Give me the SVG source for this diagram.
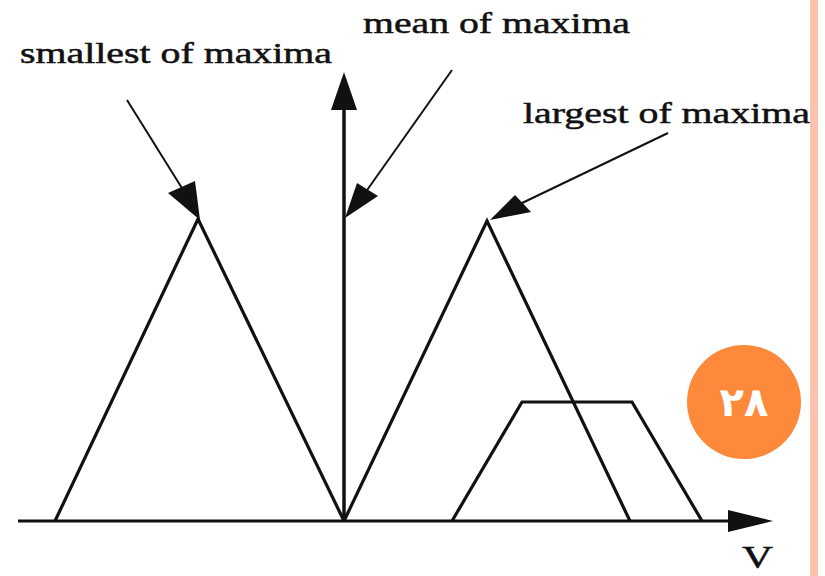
<svg xmlns="http://www.w3.org/2000/svg" width="825" height="576" viewBox="0 0 825 576">
<style>
.lbl{font-family:"Liberation Serif","Times New Roman",serif;font-size:30px;fill:#111;stroke:#111;stroke-width:0.5}
.shape{fill:none;stroke:#111;stroke-width:3.2;stroke-linejoin:miter}
.ptr{stroke:#111;stroke-width:2;fill:none}
.head{fill:#111}
</style>
<rect width="825" height="576" fill="#fff"/>
<rect x="810" y="0" width="8" height="576" fill="#FBC2AE"/>
<g id="labels">
<text class="lbl" x="20" y="63" textLength="312" lengthAdjust="spacingAndGlyphs">smallest of maxima</text>
<text class="lbl" x="363" y="33" textLength="267" lengthAdjust="spacingAndGlyphs">mean of maxima</text>
<text class="lbl" x="523" y="123" textLength="287" lengthAdjust="spacingAndGlyphs">largest of maxima</text>
<text class="lbl" x="742" y="568" style="font-size:32px" textLength="31" lengthAdjust="spacingAndGlyphs">V</text>
</g>
<g id="shapes">
<polyline id="tri-left" class="shape" points="55,521 198,219 344,521"/>
<polyline id="tri-mid" class="shape" points="344,521 487,221 630,521"/>
<polyline id="trapezoid" class="shape" points="452,521 522,402 632,402 702,521"/>
</g>
<g id="connectors">
<line id="axis-v" x1="18" y1="521" x2="732" y2="521" stroke="#111" stroke-width="3.2"/>
<polygon class="head" points="728,510 773,521 728,532"/>
<line id="axis-y" x1="344" y1="521" x2="344" y2="105" stroke="#111" stroke-width="3.5"/>
<polygon class="head" points="331,110 344,72 357,110"/>
<line class="ptr" x1="127" y1="100" x2="185" y2="193"/>
<polygon class="head" points="168,193 195,181 200,220"/>
<line class="ptr" x1="452" y1="70" x2="365" y2="193"/>
<polygon class="head" points="357,183 378,196 345,218"/>
<line class="ptr" x1="668" y1="133" x2="520" y2="204"/>
<polygon class="head" points="515,195 531,212 490,220"/>
</g>
<g id="badge">
<circle cx="744" cy="402" r="57" fill="#FD8A3A"/>
<text x="744" y="416" text-anchor="middle" style="font-family:'DejaVu Sans',sans-serif;font-weight:bold;font-size:40px;fill:#fff">۲۸</text>
</g>
</svg>
